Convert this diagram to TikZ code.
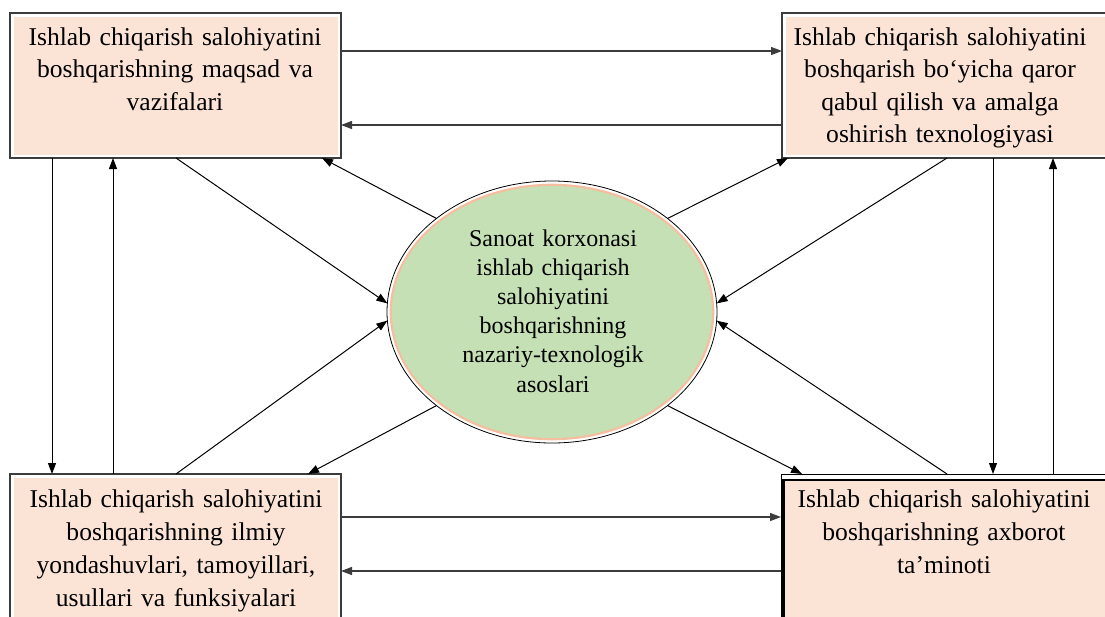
\documentclass[tikz,border=0pt]{standalone}
\usepackage{fontspec}
\setmainfont{Liberation Serif}
\usetikzlibrary{arrows.meta,shapes.geometric,calc}

\definecolor{boxpink}{RGB}{251,228,214}
\definecolor{boxline}{RGB}{60,60,60}
\definecolor{ellgreen}{RGB}{197,224,180}
\definecolor{ellring}{RGB}{244,190,160}

\tikzset{
  pbox/.style={rectangle, anchor=north west, inner sep=0pt, outer sep=0pt,
    fill=boxpink, draw=white, line width=7pt,
    postaction={draw=boxline, line width=1.3pt}},
  boxtxt/.style={anchor=base, inner sep=0pt, align=center, text width=330pt,
    font=\fontsize{25.6}{32.5}\selectfont},
  boxtxtlow/.style={boxtxt, font=\fontsize{25.6}{33}\selectfont},
  elltxt/.style={anchor=base, inner sep=0pt, align=center, text width=220pt,
    font=\fontsize{24}{29.2}\selectfont},
  conn/.style={-{Triangle[length=11pt,width=8pt]}, line width=1pt},
  hconn/.style={conn, draw=boxline, line width=1.3pt}
}

\begin{document}
\begin{tikzpicture}[x=1pt,y=1pt,yscale=-1,xscale=1]
\useasboundingbox (0,0) rectangle (1105,616);

%Shape: Rectangle top left
\node[pbox, minimum width=331pt, minimum height=145pt] (tl) at (10,13) {};
%Shape: Rectangle top right
\node[pbox, minimum width=340pt, minimum height=145pt] (tr) at (782,13) {};
%Shape: Rectangle bottom left
\node[pbox, minimum width=331pt, minimum height=160pt] (bl) at (10,474) {};
%Shape: Rectangle bottom right
\node[rectangle, anchor=north west, inner sep=0pt, outer sep=0pt, fill=white, draw=black, line width=0.8pt,
  minimum width=340pt, minimum height=160pt] (br) at (781,474) {};
\fill[boxpink] ($(br.north west)+(2,6)$) rectangle (br.south east);
\draw[line width=2.6pt] ($(br.south west)+(2.3,0)$) |- ($(br.north east)+(0,6)$);

%Shape: Ellipse
\node[ellipse, draw=black, line width=0.8pt, fill=white, inner sep=0pt, outer sep=0pt,
  minimum width=330pt, minimum height=262pt] (ell) at (552,312) {};
\fill[ellring] (ell.center) ellipse [x radius=162.3, y radius=128.3];
\fill[ellgreen] (ell.center) ellipse [x radius=160, y radius=126];

% Text Node
\node[boxtxt] (tltxt) at (175,45) {Ishlab chiqarish salohiyatini\\boshqarishning maqsad va\\vazifalari};
% Text Node
\node[boxtxt] (trtxt) at (940,45) {Ishlab chiqarish salohiyatini\\boshqarish bo‘yicha qaror\\qabul qilish va amalga\\oshirish texnologiyasi};
% Text Node
\node[boxtxtlow] (bltxt) at (176,507) {Ishlab chiqarish salohiyatini\\boshqarishning ilmiy\\yondashuvlari, tamoyillari,\\usullari va funksiyalari};
% Text Node
\node[boxtxtlow] (brtxt) at (944,507) {Ishlab chiqarish salohiyatini\\boshqarishning axborot\\ta’minoti};
% Text Node
\node[elltxt] (ellcap) at (553,246) {Sanoat korxonasi\\ishlab chiqarish\\salohiyatini\\boshqarishning\\nazariy-texnologik\\asoslari};

%Straight Lines between boxes
\draw[hconn] (tl.east |- 0,51) -- (tr.west |- 0,51);
\draw[hconn] (tr.west |- 0,125) -- (tl.east |- 0,125);
\draw[hconn] (bl.east |- 0,517) -- (br.west |- 0,517);
\draw[hconn] (br.west |- 0,571) -- (bl.east |- 0,571);
\draw[conn] (tl.south -| 52,0) -- (bl.north -| 52,0);
\draw[conn] (bl.north -| 113,0) -- (tl.south -| 113,0);
\draw[conn] (tr.south -| 993,0) -- (br.north -| 993,0);
\draw[conn] (br.north -| 1053,0) -- (tr.south -| 1053,0);

%Straight Lines to and from the ellipse
\draw[conn] (tl.south -| 176,0) -- (ell.177);
\draw[conn] (ell.141) -- (tl.south -| 322,0);
\draw[conn] (ell.39) -- (tr.south -| 788,0);
\draw[conn] (tr.south -| 947,0) -- (ell.3);
\draw[conn] (bl.north -| 176,0) -- (ell.183);
\draw[conn] (ell.219) -- (bl.north -| 308,0);
\draw[conn] (ell.321) -- (br.north -| 802,0);
\draw[conn] (br.north -| 947,0) -- (ell.357);

\end{tikzpicture}
\end{document}
